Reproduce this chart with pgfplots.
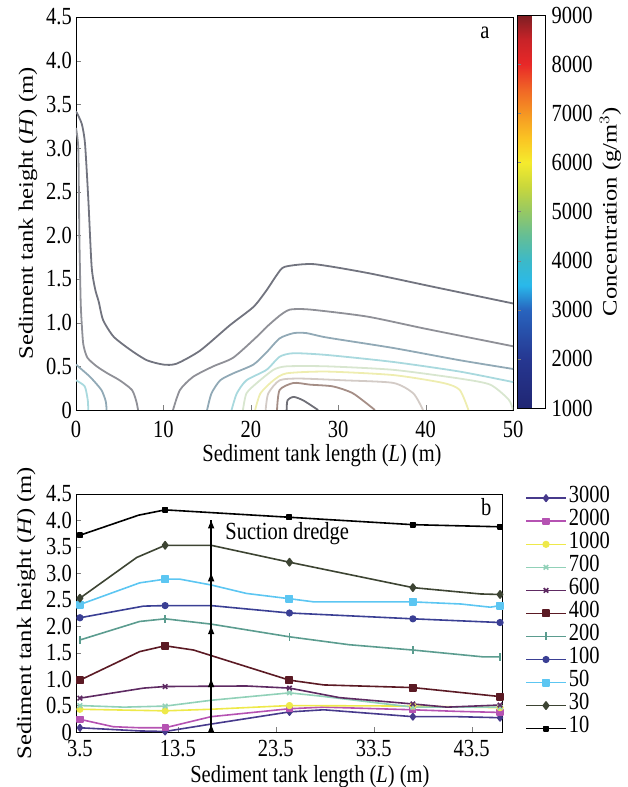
\documentclass[border=0pt]{standalone}
\usepackage{fontspec}
\setmainfont{Liberation Serif}
\usepackage{graphicx}
\usepackage{pgfplots}
\pgfplotsset{compat=1.18}
\usetikzlibrary{arrows.meta}

% contour colours (top panel)
\definecolor{k1}{HTML}{72747F}
\definecolor{k2}{HTML}{8F9097}
\definecolor{k3}{HTML}{91A9B6}
\definecolor{k4}{HTML}{A9D9DE}
\definecolor{k5}{HTML}{D8E6CF}
\definecolor{k6}{HTML}{EEEDB0}
\definecolor{k7}{HTML}{D3CBC6}
\definecolor{k8}{HTML}{A58E86}
\definecolor{k9}{HTML}{6F6F77}
% series colours (bottom panel)
\definecolor{c10}{HTML}{000000}
\definecolor{c30}{HTML}{3D4433}
\definecolor{c50}{HTML}{5CC6F2}
\definecolor{c100}{HTML}{3A3F94}
\definecolor{c200}{HTML}{5B9C8F}
\definecolor{c400}{HTML}{5B1A24}
\definecolor{c600}{HTML}{5E2A62}
\definecolor{c700}{HTML}{91D1B8}
\definecolor{c1000}{HTML}{EEE94A}
\definecolor{c2000}{HTML}{B552B2}
\definecolor{c3000}{HTML}{473A8C}

\tikzset{dredge/.style={line width=1.3pt, -{Triangle[length=8pt,width=6pt]}}}

\pgfplotsset{
    every axis/.append style={
        font=\fontsize{20.5}{24}\selectfont,
        scale only axis,
        tick align=inside,
        major tick length=5pt,
        xtick pos=bottom, ytick pos=left,
        /pgf/number format/assume math mode=true,
        /pgf/number format/1000 sep={},
        every tick label/.append style={font=\fontsize{20.5}{24}\selectfont, yscale=1.2},
        axis line style={line width=0.8pt},
    },
    ctr/.style={no marks, line width=1.8pt, smooth, tension=0.4, forget plot},
    ser/.style={line width=1.6pt, line join=round, color=#1, mark options={solid, fill=#1}},
}

\begin{document}
\begin{tikzpicture}[font=\fontsize{20.5}{24}\selectfont]
\useasboundingbox (0,0) rectangle (627pt,787pt);

% ---------------- panel a ----------------
\begin{axis}[
    at={(76pt,377pt)}, anchor=south west,
    width=437pt, height=393pt,
    xmin=0, xmax=50, ymin=0, ymax=4.5,
    xtick={0,10,20,30,40,50},
    ytick={0,0.5,1,1.5,2,2.5,3,3.5,4,4.5},
    yticklabels={0,0.5,1.0,1.5,2.0,2.5,3.0,3.5,4.0,4.5},
    xticklabel style={inner sep=0pt, yshift=-9pt},
    yticklabel style={inner sep=0pt, xshift=-4pt},
    xlabel={Sediment tank length (\textit{L}) (m)},
    ylabel={\scalebox{1.2}[1]{Sediment tank height (\textit{H}) (m)}},
    xlabel style={at={(axis description cs:0.563,-0.117)}, anchor=center, yscale=1.2},
    ylabel style={at={(axis description cs:-0.110,0.5)}, anchor=center},
    colormap={conc}{
        rgb255(0pt)=(32,38,115); rgb255(2pt)=(38,55,145); rgb255(4pt)=(40,100,190);
        rgb255(5pt)=(41,185,235); rgb255(6pt)=(60,185,200); rgb255(7pt)=(100,190,150);
        rgb255(8pt)=(150,200,100); rgb255(9pt)=(200,215,60); rgb255(10pt)=(245,235,45);
        rgb255(11pt)=(250,195,35); rgb255(12pt)=(245,150,35); rgb255(13pt)=(240,100,38);
        rgb255(14pt)=(232,40,40); rgb255(15pt)=(200,35,40); rgb255(16pt)=(125,30,35)},
    point meta min=1000, point meta max=9000,
    colorbar,
    colorbar style={
        at={(parent axis.north east)}, anchor=north west,
        xshift=-4pt, yshift=2pt,
        width=28pt,
        ytick={1000,2000,3000,4000,5000,6000,7000,8000,9000},
        yticklabels={1000,2000,3000,4000,5000,6000,7000,8000,9000},
        scaled y ticks=false,
        major tick length=3pt,
        yticklabel pos=right,
        yticklabel style={inner sep=0pt, xshift=6pt},
        ylabel={\scalebox{1.2}[1]{Concentration (g/m$^{3}$)}},
        ylabel style={at={(axis description cs:3.32,0.5)}, anchor=center},
    },
]
\addplot[ctr, k1] coordinates {(0,3.42) (0.65,3.28) (1.03,3.05) (1.41,2.41) (1.79,1.64) (2.2,1.38) (2.6,1.24) (3.1,1.03) (4.3,0.84) (6.2,0.69) (8.1,0.57) (10.0,0.52) (11.5,0.53) (14.2,0.68) (17.6,0.97) (20.3,1.18) (21.8,1.37) (23.0,1.55) (23.9,1.64) (27.2,1.67) (33.3,1.57) (40.9,1.41) (50,1.22)};
\addplot[ctr, k2] coordinates {(0,3.23) (0.27,2.98) (0.38,2.02) (0.53,1.26) (0.65,1.0) (0.84,0.75) (1.3,0.6) (2.37,0.50) (3.6,0.42) (5.0,0.34) (6.4,0.23) (6.9,0.1) (7.1,0)};
\addplot[ctr, k2] coordinates {(11.1,0) (11.9,0.23) (13.4,0.38) (15.7,0.50) (18.0,0.60) (20.7,0.84) (21.8,0.95) (23.3,1.08) (24.5,1.15) (26.8,1.15) (33.3,1.07) (40,0.93) (50,0.73)};
\addplot[ctr, k3] coordinates {(0,0.52) (1.6,0.38) (2.9,0.23) (3.4,0.1) (3.5,0)};
\addplot[ctr, k3] coordinates {(15.0,0) (15.5,0.19) (16.5,0.34) (18.0,0.42) (20.3,0.52) (21.8,0.66) (23.3,0.82) (24.9,0.88) (26.4,0.88) (28.7,0.83) (36.3,0.71) (43.9,0.57) (50,0.47)};
\addplot[ctr, k4] coordinates {(0,0.34) (1.0,0.27) (1.35,0.11) (1.4,0)};
\addplot[ctr, k4] coordinates {(17.8,0) (18.4,0.19) (19.5,0.34) (21.8,0.46) (23.3,0.61) (24.9,0.65) (28.7,0.63) (36.3,0.55) (43.9,0.44) (50,0.32)};
\addplot[ctr, k5] coordinates {(19.1,0) (19.5,0.19) (20.7,0.31) (22.6,0.46) (24.1,0.50) (28.7,0.50) (36.3,0.46) (43.9,0.36) (47.4,0.29) (49.5,0.12) (50,0)};
\addplot[ctr, k6] coordinates {(20.5,0) (21.1,0.19) (22.6,0.34) (24.1,0.42) (28.7,0.44) (36.3,0.40) (42.0,0.31) (43.9,0.23) (44.9,0)};
\addplot[ctr, k7] coordinates {(21.7,0) (22.0,0.19) (23.3,0.34) (25.6,0.36) (30.6,0.34) (36.3,0.31) (38.6,0.19) (39.7,0)};
\addplot[ctr, k8] coordinates {(23.0,0) (23.3,0.23) (24.9,0.31) (26.8,0.29) (29.4,0.27) (31.7,0.19) (34.2,0)};
\addplot[ctr, k9] coordinates {(24.1,0) (24.2,0.11) (24.9,0.15) (26.0,0.11) (27.7,0)};
\node[yscale=1.2] at (axis cs:46.8,4.32) {a};
\end{axis}

% ---------------- panel b ----------------
\begin{axis}[
    at={(76pt,55pt)}, anchor=south west,
    width=426pt, height=238pt,
    xmin=3.1, xmax=46.6, ymin=0, ymax=4.5,
    xtick={3.5,13.5,23.5,33.5,43.5},
    xticklabels={3.5,13.5,23.5,33.5,43.5},
    ytick={0,0.5,1,1.5,2,2.5,3,3.5,4,4.5},
    yticklabels={0,0.5,1.0,1.5,2.0,2.5,3.0,3.5,4.0,4.5},
    xticklabel style={inner sep=0pt, yshift=-7pt},
    yticklabel style={inner sep=0pt, xshift=-4pt},
    xlabel={Sediment tank length (\textit{L}) (m)},
    ylabel={\scalebox{1.2}[1]{Sediment tank height (\textit{H}) (m)}},
    xlabel style={at={(axis description cs:0.549,-0.189)}, anchor=center, yscale=1.2},
    ylabel style={at={(axis description cs:-0.117,0.5)}, anchor=center},
    legend style={
        at={(axis description cs:1,1)}, anchor=north west,
        xshift=23pt, yshift=7.5pt,
        draw=none, fill=none, inner sep=0pt, row sep=0pt,
        font=\fontsize{20.5}{24}\selectfont,
        nodes={text height=11.2pt, text depth=4pt, inner sep=2pt, yscale=1.2},
    },
    legend cell align=left,
    legend image code/.code={
        \draw[#1, mark indices={2}] plot coordinates {(0pt,0pt) (20pt,0pt) (40pt,0pt)};
    },
]
\addplot[ser=c3000, mark=diamond*, mark size=3.2pt, mark indices={1,3,5,7,9}] coordinates {
    (3.5,0.08) (9.6,0.02) (12.2,0.01) (16.9,0.15) (24.9,0.38) (28.4,0.42) (37.5,0.29) (42,0.29) (46.4,0.27)};
\addplot[ser=c2000, mark=square*, mark size=2.8pt, mark indices={1,4,6,8,10}] coordinates {
    (3.5,0.24) (6.9,0.10) (9.6,0.08) (12.2,0.08) (16.9,0.29) (24.9,0.44) (28.4,0.47) (37.5,0.42) (42,0.39) (46.4,0.37)};
\addplot[ser=c1000, mark=*, mark size=2.8pt, mark indices={1,2,4,5,6}] coordinates {
    (3.5,0.43) (12.2,0.40) (16.9,0.43) (24.9,0.50) (37.5,0.49) (46.4,0.46)};
\addplot[ser=c700, mark=x, mark size=3.2pt, mark indices={1,3,5,7,8}] coordinates {
    (3.5,0.50) (8,0.47) (12.2,0.49) (16.9,0.60) (24.9,0.74) (28,0.68) (37.5,0.47) (46.4,0.47)};
\addplot[ser=c600, mark=x, mark size=3.2pt, mark indices={1,3,5,7,9}] coordinates {
    (3.5,0.64) (10,0.83) (12.2,0.86) (20.5,0.87) (24.9,0.83) (30,0.65) (37.5,0.53) (41,0.47) (46.4,0.51)};
\addplot[ser=c400, mark=square*, mark size=3.2pt, mark indices={1,3,5,7,8}] coordinates {
    (3.5,0.98) (9.6,1.52) (12.2,1.63) (15.1,1.55) (24.9,0.98) (28.4,0.89) (37.5,0.84) (46.4,0.67)};
\addplot[ser=c200, mark=|, mark size=4pt, mark indices={1,3,5,7,9}] coordinates {
    (3.5,1.74) (9.6,2.09) (12.2,2.14) (16.9,2.04) (24.9,1.80) (31,1.65) (37.5,1.55) (44.7,1.42) (46.4,1.42)};
\addplot[ser=c100, mark=*, mark size=2.8pt, mark indices={1,3,5,6,7}] coordinates {
    (3.5,2.16) (10.0,2.38) (12.2,2.39) (16.9,2.39) (24.9,2.25) (37.5,2.14) (46.4,2.07)};
\addplot[ser=c50, mark=square*, mark size=3.2pt, mark indices={1,3,7,9,12}] coordinates {
    (3.5,2.41) (9.6,2.82) (12.2,2.89) (13.7,2.89) (16.9,2.78) (20.5,2.62) (24.9,2.52) (27.4,2.46) (37.5,2.46) (42.4,2.42) (45.4,2.36) (46.4,2.39)};
\addplot[ser=c30, mark=diamond*, mark size=3.6pt, mark indices={1,3,5,6,8}] coordinates {
    (3.5,2.53) (9.3,3.30) (12.2,3.53) (16.9,3.53) (24.9,3.21) (37.5,2.73) (44.4,2.61) (46.4,2.60)};
\addplot[ser=c10, mark=square*, mark size=2.2pt, mark indices={1,3,4,5,6}] coordinates {
    (3.5,3.72) (9.5,4.10) (12.2,4.20) (24.9,4.06) (37.5,3.92) (46.4,3.88)};
\legend{3000,2000,1000,700,600,400,200,100,50,30,10}

% suction dredge arrow
\draw[line width=1.3pt] (axis cs:16.9,0) -- (axis cs:16.9,4.0);
\draw[dredge] (axis cs:16.9,0.7) -- (axis cs:16.9,1.0);
\draw[dredge] (axis cs:16.9,1.7) -- (axis cs:16.9,2.0);
\draw[dredge] (axis cs:16.9,2.7) -- (axis cs:16.9,3.0);
\draw[dredge] (axis cs:16.9,3.7) -- (axis cs:16.9,4.0);
\draw[dredge] (axis cs:16.9,0) -- (axis cs:16.9,0.14);
\node[anchor=west, yscale=1.2] at (axis cs:18.0,3.76) {Suction dredge};
\node[yscale=1.2] at (axis cs:45.0,4.25) {b};
\end{axis}
\end{tikzpicture}
\end{document}
